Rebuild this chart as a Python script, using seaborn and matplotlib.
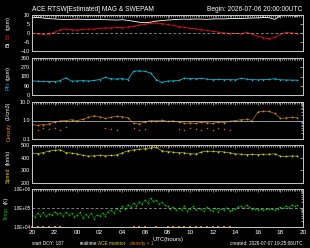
import numpy as np
import pandas as pd
import matplotlib
matplotlib.use("Agg")
import matplotlib.pyplot as plt
import seaborn as sns
from matplotlib.ticker import FixedLocator, MultipleLocator, LogLocator, NullFormatter
import matplotlib.transforms as mtrans

sns.set_theme(style="dark", rc={
    "figure.facecolor": "black", "axes.facecolor": "black",
    "axes.edgecolor": "#c8c8c8", "text.color": "white",
    "xtick.color": "#c8c8c8", "ytick.color": "#c8c8c8",
    "axes.grid": False,
})
plt.rcParams['font.family'] = ['Liberation Sans', 'DejaVu Sans']

# ---------------- data (hours since 2026-07-06 20:00 UTC) ----------------
hours = np.arange(0, 24, 0.5)
hours_q = np.arange(0, 23.75, 0.25)

bt = [8.5, 8.6, 8.3, 8.0, 7.8, 7.6, 7.5, 7.6, 7.7, 7.6, 7.4, 7.5, 7.6, 7.4, 7.3, 7.2,
      7.4, 7.0, 6.5, 6.0, 5.7, 6.0, 6.6, 6.9, 7.2, 7.4, 7.6, 7.7, 7.6, 7.8, 7.7, 7.6,
      7.8, 7.9, 7.8, 8.0, 8.1, 8.0, 8.2, 8.3, 8.4, 8.6, 8.5, 7.6, 9.6, 9.9, 9.8, 9.3]
bz = [0.0, -0.3, -0.8, -0.5, 0.5, 1.8, 2.2, 1.9, 1.6, 2.0, 2.3, 2.1, 2.6, 2.9, 2.7, 3.1,
      3.0, 3.4, 3.8, 4.4, 4.9, 5.3, 5.5, 5.2, 4.8, 4.2, 3.6, 3.1, 2.7, 2.3, 1.9, 1.4,
      0.9, 0.5, 0.1, -0.3, -0.2, -0.5, 0.4, -0.6, -1.8, -2.6, -3.2, -2.4, -0.6, 0.4, 0.1, -0.3]
phi = [137, 135, 132, 130, 131, 140, 168, 135, 137, 140, 136, 142, 150, 172, 158, 155,
       160, 150, 232, 235, 230, 215, 150, 122, 135, 138, 142, 165, 160, 158, 162, 155,
       150, 152, 149, 150, 147, 162, 155, 150, 148, 150, 152, 158, 148, 146, 145, 144]
density = [0.6, 0.55, 0.6, 0.65, 0.8, 0.95, 1.0, 1.1, 1.0, 1.15, 1.5, 1.8, 1.6, 1.3, 1.5, 1.7,
           1.6, 1.4, 0.7, 0.65, 0.85, 1.0, 0.95, 1.05, 0.9, 0.95, 0.85, 0.7, 0.75, 0.7, 0.8, 0.75,
           0.7, 0.8, 0.75, 0.9, 1.0, 1.1, 1.2, 1.0, 2.9, 3.2, 3.1, 2.4, 1.3, 1.4, 1.5, 1.4]
density_low = [0.35, 0.3, 0.4, 0.33, 0.38, 0.3, 0.42, np.nan, np.nan, np.nan, np.nan, np.nan, np.nan, 0.4, 0.33, 0.3,
               np.nan, np.nan, 0.4, 0.3, 0.35, np.nan, np.nan, np.nan, np.nan, np.nan, 0.33, 0.3, 0.4, 0.35, 0.3, 0.38,
               0.32, 0.4, 0.35, 0.3, np.nan, np.nan, np.nan, np.nan, np.nan, np.nan, np.nan, np.nan, np.nan, np.nan, np.nan, np.nan]
speed = [436, 432, 440, 452, 458, 462, 440, 436, 430, 418, 412, 415, 420, 414, 418, 422,
         438, 455, 462, 466, 470, 478, 482, 455, 448, 444, 440, 438, 432, 428, 445, 452,
         450, 448, 445, 440, 430, 428, 424, 426, 425, 427, 428, 430, 412, 410, 414, 412]
temp = [4.5e4, 3.2e4, 5.5e4, 4.0e4, 6.0e4, 3.6e4, 5.0e4, 4.2e4,
        6.5e4, 4.8e4, 5.6e4, 3.9e4, 6.2e4, 4.5e4, 5.3e4, 3.4e4,
        4.1e4, 5.8e4, 3.0e4, 4.6e4, 3.5e4, 5.2e4, 2.8e4, 4.4e4,
        3.8e4, 5.5e4, 4.0e4, 6.5e4, 8.0e4, 5.6e4, 9.5e4, 7.0e4,
        1.2e5, 8.5e4, 1.5e5, 1.1e5, 1.8e5, 1.3e5, 2.1e5, 1.6e5,
        2.6e5, 1.9e5, 3.2e5, 2.2e5, 2.5e5, 1.7e5, 2.0e5, 1.4e5,
        1.2e5, 9.0e4, 1.1e5, 7.5e4, 9.8e4, 8.2e4, 1.3e5, 7.0e4,
        9.0e4, 1.2e5, 7.8e4, 1.0e5, 8.5e4, 6.8e4, 1.1e5, 8.0e4,
        7.2e4, 9.5e4, 6.5e4, 8.8e4, 7.6e4, 1.05e5, 7.0e4, 8.2e4,
        9.0e4, 1.15e5, 1.3e5, 9.5e4, 1.4e5, 1.1e5, 8.5e4, 9.2e4,
        8.0e4, 9.0e4, 7.8e4, 8.6e4, 9.2e4, 8.4e4, 7.9e4, 9.0e4,
        1.1e5, 9.5e4, 1.3e5, 1.0e5, 1.5e5, 1.2e5, 1.4e5]

xtick_pos = list(range(0, 25, 2))
xtick_labels = ["20", "22", "00", "02", "04", "06", "08", "10", "12", "14", "16", "18", "20"]

df = pd.DataFrame({"hours": hours, "bt": bt, "bz": bz, "phi": phi, "density": density,
                   "density_low": density_low, "speed": speed})
dft = pd.DataFrame({"hours": hours_q, "temp": temp})

# ---------------- figure ----------------
W, H = 310, 248
fig = plt.figure(figsize=(W / 100, H / 100), dpi=100, facecolor="black")

def px_axes(top, bottom, left=32, right=303):
    return fig.add_axes([left / W, 1 - bottom / H, (right - left) / W, (bottom - top) / H])

FR = "#c8c8c8"
ax1 = px_axes(15, 51)
ax2 = px_axes(58, 95)
ax3 = px_axes(102, 139)
ax4 = px_axes(145, 183)
ax5 = px_axes(189, 227)
axes = [ax1, ax2, ax3, ax4, ax5]

ax3.set_yscale("log")
ax5.set_yscale("log")

sns.lineplot(data=df, x="hours", y="bt", ax=ax1, color="white", linewidth=0.6)
sns.lineplot(data=df, x="hours", y="bz", ax=ax1, color="#e01010", linewidth=0.6,
             marker="o", markersize=1.2, markeredgewidth=0)
sns.lineplot(data=df, x="hours", y="phi", ax=ax2, color="#10b8d0", linewidth=0.6,
             marker="o", markersize=1.2, markeredgewidth=0)
sns.lineplot(data=df, x="hours", y="density", ax=ax3, color="#e08a10", linewidth=0.4,
             marker="o", markersize=1.3, markeredgewidth=0)
sns.scatterplot(data=df, x="hours", y="density_low", ax=ax3, color="#c07808", s=1.2,
                linewidth=0)
sns.lineplot(data=df, x="hours", y="speed", ax=ax4, color="#d8d810", linewidth=0.4,
             marker="o", markersize=1.3, markeredgewidth=0)
sns.lineplot(data=dft, x="hours", y="temp", ax=ax5, color="#10b010", linewidth=0.35,
             marker="o", markersize=1.2, markeredgewidth=0)

# density < 1 indicator along bottom of temp panel
low = df[df["density"] < 1]
trans = mtrans.blended_transform_factory(ax5.transData, ax5.transAxes)
ax5.plot(low["hours"], np.full(len(low), 0.0), ls="none", marker="s", markersize=1.6,
         markeredgewidth=0, color="#d08010", transform=trans, clip_on=False)

# reference lines
ax1.axhline(0, color="#b0b0b0", lw=0.5, ls=(0, (4, 3)))
ax3.axhline(1.0, color="#b0b0b0", lw=0.6)
ax5.axhline(1e5, color="#b0b0b0", lw=0.5, ls=(0, (4, 3)))

# limits and ticks
ax1.set_ylim(-10, 10)
ax1.yaxis.set_major_locator(FixedLocator([-10, -5, 0, 5, 10]))
ax2.set_ylim(0, 360)
ax2.yaxis.set_major_locator(FixedLocator([0, 90, 180, 270, 360]))
ax3.set_ylim(0.1, 10)
ax3.yaxis.set_major_locator(FixedLocator([0.1, 1.0, 10.0]))
ax3.set_yticklabels(["0.1", "1.0", "10.0"])
ax3.yaxis.set_minor_locator(LogLocator(subs=np.arange(2, 10)))
ax3.yaxis.set_minor_formatter(NullFormatter())
ax4.set_ylim(200, 500)
ax4.yaxis.set_major_locator(FixedLocator([200, 300, 400, 500]))
ax5.set_ylim(1e4, 1e6)
ax5.yaxis.set_major_locator(FixedLocator([1e4, 1e5, 1e6]))
ax5.set_yticklabels(["1.0E+04", "1.0E+05", "1.0E+06"])
ax5.yaxis.set_minor_locator(LogLocator(subs=np.arange(2, 10)))
ax5.yaxis.set_minor_formatter(NullFormatter())

for ax in axes:
    ax.set_xlim(0, 24)
    ax.xaxis.set_major_locator(FixedLocator(xtick_pos))
    ax.xaxis.set_minor_locator(MultipleLocator(1 / 6))
    ax.set_xlabel("")
    ax.set_ylabel("")
    ax.tick_params(which="both", direction="in", top=True, right=True, width=0.5,
                   colors=FR, labelcolor="white", labelsize=3.9, pad=1.5)
    ax.tick_params(which="major", length=2.5)
    ax.tick_params(which="minor", length=1.3)
    for s in ax.spines.values():
        s.set_color(FR)
        s.set_linewidth(0.7)
    if ax is not ax5:
        ax.set_xticklabels([])
ax5.set_xticklabels(xtick_labels)
ax5.tick_params(axis="x", labelsize=4.6, pad=2.5)
ax5.tick_params(axis="y", labelsize=3.3, pad=1.2)

# titles and footers
fig.text(32 / W, 1 - 9.5 / H, "ACE RTSW[Estimated] MAG & SWEPAM", fontsize=4.8,
         color="white", ha="left", va="center")
fig.text(302 / W, 1 - 9.5 / H, "Begin: 2026-07-06 20:00:00UTC", fontsize=4.8,
         color="white", ha="right", va="center")
fig.text(167.5 / W, 1 - 240 / H, "UTC(hours)", fontsize=4.2, color="white",
         ha="center", va="center")
FS = 3.4
fig.text(32 / W, 1 - 243.5 / H, "start DOY: 187", fontsize=FS, color="white",
         ha="left", va="center")
fig.text(80 / W, 1 - 243.5 / H, "realtime:", fontsize=FS, color="white",
         ha="left", va="center")
fig.text(98 / W, 1 - 243.5 / H, "ACE monitor", fontsize=FS, color="#e0e010",
         ha="left", va="center")
fig.text(130 / W, 1 - 243.5 / H, "density < 1", fontsize=FS, color="#e08a10",
         ha="left", va="center")
fig.text(302 / W, 1 - 243.5 / H, "created: 2026-07-07 19:25:06UTC", fontsize=FS,
         color="white", ha="right", va="center")

# multi-coloured rotated y labels
renderer = fig.canvas.get_renderer()

def stacked_label(xpx, ybottom_px, parts, size=3.9):
    y = 1 - ybottom_px / H
    for txt, col in parts:
        t = fig.text(xpx / W, y, txt, color=col, rotation=90, ha="center", va="bottom",
                     fontsize=size)
        bb = t.get_window_extent(renderer)
        y = (bb.y1 + 2.5) / fig.bbox.height

stacked_label(8.5, 47, [("Bt", "white"), ("Bz", "#e01010"), ("(gsm)", "white")])
stacked_label(8.5, 90, [("Phi", "#10b8d0"), ("(gsm)", "white")])
stacked_label(8.5, 141, [("Density", "#e08a10"), ("(1/cm3)", "white")])
stacked_label(8.5, 183, [("Speed", "#d8d810"), ("(km/s)", "white")])
stacked_label(6.5, 220, [("Temp", "#10b010"), ("(K)", "white")])

fig.savefig("out.png", dpi=100, facecolor="black")
